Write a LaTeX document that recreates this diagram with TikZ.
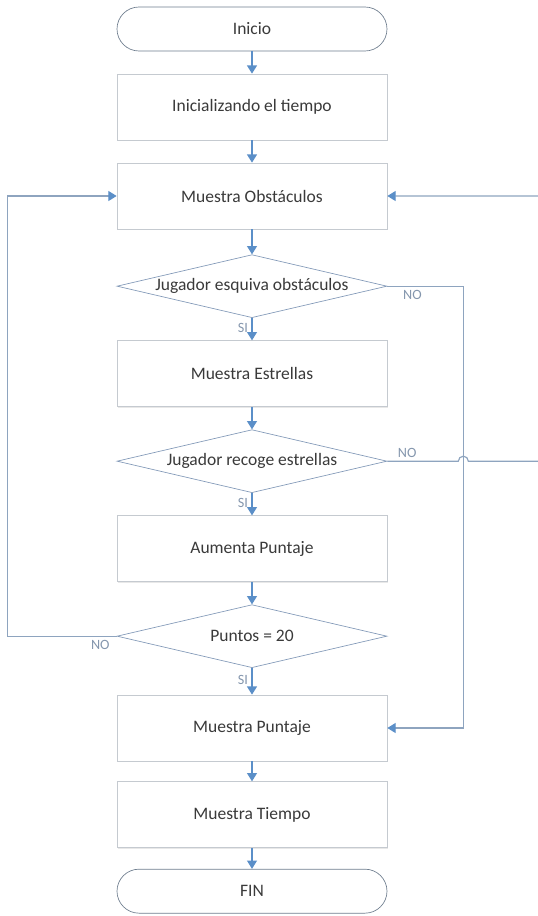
\documentclass[tikz,border=0pt]{standalone}
\usepackage{fontspec}
\setmainfont{Carlito}
\usepackage{xcolor}
\usepackage{tikz}
\usetikzlibrary{positioning, arrows.meta, calc, shapes.geometric, shadows}
\definecolor{flowblue}{HTML}{5B8FC8}
\definecolor{loopline}{HTML}{8EA4BF}
\definecolor{boxline}{HTML}{C5CAD0}
\definecolor{dmdline}{HTML}{8299B8}
\definecolor{termline}{HTML}{6E7D8E}
\definecolor{txtgray}{HTML}{3A3A3A}
\definecolor{lblgray}{HTML}{8496AD}

\begin{document}
\begin{tikzpicture}[
  font=\fontsize{10.5}{12}\selectfont, text=txtgray, >={Triangle[width=6pt,length=5pt,color=flowblue]}, node distance=13.4pt,
  term/.style={draw=termline, rounded corners=13.2pt, fill=white, minimum width=162pt, minimum height=26.4pt},
  proc/.style={draw=boxline, fill=white, minimum width=162pt, minimum height=39.6pt,
               drop shadow={shadow xshift=0.8pt, shadow yshift=-0.8pt, opacity=0.18, fill=gray}},
  dec/.style ={diamond, draw=dmdline, fill=white, minimum width=162pt, minimum height=37.8pt, inner sep=0pt, aspect=4.2},
  lbl/.style ={font=\fontsize{8.5}{10}\selectfont, text=lblgray, inner sep=2pt},
  flow/.style={->, draw=flowblue, line width=0.8pt},
  back/.style={draw=loopline, line width=0.7pt}]
\useasboundingbox (0,0) rectangle (322.8pt,-549.6pt);
\node[term] (inicio) at (151.2pt,-17.4pt) {Inicio};
\node[proc, below=of inicio] (init)  {Inicializando el tiempo};
\node[proc, below=of init]   (obst)  {Muestra Obstáculos};
\node[dec,  below=15pt of obst] (esq) {Jugador esquiva obstáculos};
\node[proc, below=of esq]    (estr)  {Muestra Estrellas};
\node[dec,  below=of estr]   (rec)   {Jugador recoge estrellas};
\node[proc, below=of rec]    (aum)   {Aumenta Puntaje};
\node[dec,  below=of aum]    (pts)   {Puntos = 20};
\node[proc, below=16pt of pts] (mpun) {Muestra Puntaje};
\node[proc, below=12pt of mpun] (mtie) {Muestra Tiempo};
\node[term, below=12.5pt of mtie] (fin) {FIN};
% main line
\draw[flow] (inicio)--(init); \draw[flow] (init)--(obst); \draw[flow] (obst)--(esq);
\draw[flow] (esq)-- node[lbl, left, pos=0.45] {SI} (estr);
\draw[flow] (estr)--(rec);
\draw[flow] (rec)-- node[lbl, left, pos=0.45] {SI} (aum);
\draw[flow] (aum)--(pts);
\draw[flow] (pts)-- node[lbl, left, pos=0.45] {SI} (mpun);
\draw[flow] (mpun)--(mtie); \draw[flow] (mtie)--(fin);
% NO branches
\coordinate (c1) at ($(esq.east)+(45.6pt,0)$);
\coordinate (c2) at ($(rec.east)+(91pt,0)$);
\coordinate (c3) at ($(pts.west)+(-65.4pt,0)$);
\draw[back, ->] (esq.east) -- node[lbl, below, pos=0.33] {NO} (c1) |- (mpun.east);
\draw[back, ->] (rec.east) -- node[lbl, above, pos=0.28] {NO} ($(rec.east -| c1)+(-3pt,0)$)
  arc[start angle=180, end angle=0, radius=3pt] -- (c2) |- (obst.east);
\draw[back, ->] (pts.west) -- node[lbl, below, pos=0.15] {NO} (c3) |- (obst.west);
\end{tikzpicture}
\end{document}
